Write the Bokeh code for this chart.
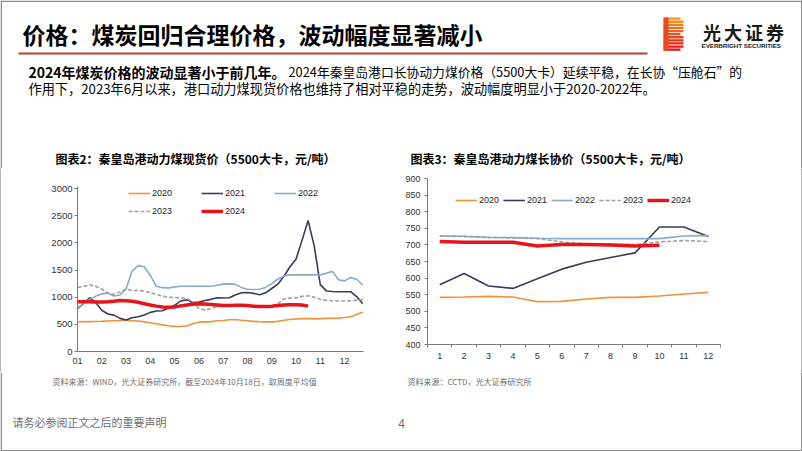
from bokeh.plotting import figure
from bokeh.layouts import column, row
from bokeh.models import (Range1d, Legend, LegendItem, FixedTicker, CustomJSTickFormatter)
from bokeh.core.properties import value
from bokeh.embed import file_html
from bokeh.resources import INLINE

CJK = "Noto Sans CJK SC"
LAT = "Liberation Sans"

# ---------------- texts ----------------
TITLE_TEXT = "价格：煤炭回归合理价格，波动幅度显著减小"
BODY1_BOLD = "2024年煤炭价格的波动显著小于前几年。"
BODY1_REST = "2024年秦皇岛港口长协动力煤价格（5500大卡）延续平稳，在长协“压舱石”的"
BODY2 = "作用下，2023年6月以来，港口动力煤现货价格也维持了相对平稳的走势，波动幅度明显小于2020-2022年。"
CHART2_TITLE = "图表2：秦皇岛港动力煤现货价（5500大卡，元/吨）"
CHART3_TITLE = "图表3：秦皇岛港动力煤长协价（5500大卡，元/吨）"
SOURCE2 = "资料来源：WIND，光大证券研究所，截至2024年10月18日，取周度平均值"
SOURCE3 = "资料来源：CCTD，光大证券研究所"
FOOTER = "请务必参阅正文之后的重要声明"
PAGE_NO = "4"
LOGO_CN = ["光", "大", "证", "券"]
LOGO_EN = "EVERBRIGHT SECURITIES"

# ---------------- chart 2 data (spot price, weekly-ish, x = month position) ----------------
spot_x = [1.0, 1.25, 1.5, 1.75, 2.0, 2.25, 2.5, 2.75, 3.0, 3.25, 3.5, 3.75,
          4.0, 4.25, 4.5, 4.75, 5.0, 5.25, 5.5, 5.75, 6.0, 6.25, 6.5, 6.75,
          7.0, 7.25, 7.5, 7.75, 8.0, 8.25, 8.5, 8.75, 9.0, 9.25, 9.5, 9.75,
          10.0, 10.25, 10.5, 10.75, 11.0, 11.25, 11.5, 11.75, 12.0, 12.25, 12.5, 12.75]
spot_2020 = [548, 548, 550, 552, 555, 560, 565, 570, 570, 565, 560, 545,
             530, 510, 490, 475, 465, 460, 470, 510, 540, 545, 550, 565,
             570, 585, 590, 575, 565, 555, 548, 545, 545, 555, 575, 590,
             600, 605, 605, 600, 605, 610, 612, 615, 625, 640, 680, 725]
spot_2021 = [790, 880, 990, 900, 760, 690, 670, 610, 580, 620, 640, 670,
             720, 745, 750, 800, 850, 930, 950, 900, 910, 940, 960, 990,
             985, 990, 1040, 1080, 1085, 1070, 1045, 1080, 1160, 1240, 1380, 1560,
             1700, 2050, 2410, 1940, 1230, 1115, 1105, 1100, 1100, 1100, 1010, 880]
spot_2022 = [800, 880, 960, 1020, 1060, 1075, 1020, 1040, 1150, 1480, 1580, 1560,
             1400, 1200, 1175, 1170, 1190, 1200, 1200, 1200, 1200, 1200, 1200, 1220,
             1240, 1245, 1235, 1180, 1145, 1140, 1145, 1180, 1250, 1330, 1390, 1410,
             1410, 1410, 1410, 1410, 1410, 1440, 1475, 1320, 1300, 1360, 1330, 1220]
spot_2023 = [1180, 1200, 1225, 1200, 1150, 1080, 1050, 1100, 1150, 1120, 1125, 1110,
             1080, 1050, 1020, 1000, 995, 985, 975, 915, 790, 765, 790, 825,
             840, 835, 840, 845, 840, 830, 820, 815, 830, 880, 970, 985,
             990, 1015, 1025, 1000, 960, 940, 935, 930, 930, 935, 945, 955]
spot_2024 = [915, 915, 915, 910, 910, 915, 925, 940, 935, 925, 905, 880,
             855, 835, 820, 815, 820, 840, 855, 870, 880, 875, 865, 855,
             845, 845, 850, 850, 845, 835, 830, 830, 835, 845, 855, 860,
             860, 855, 835]
spot_ticks = [1, 2, 3, 4, 5, 6, 7, 8, 9, 10, 11, 12]
spot_tick_labels = ["01", "02", "03", "04", "05", "06", "07", "08", "09", "10", "11", "12"]
spot_y_ticks = [0, 500, 1000, 1500, 2000, 2500, 3000]

# ---------------- chart 3 data (long-term contract price, monthly) ----------------
lt_months = [1, 2, 3, 4, 5, 6, 7, 8, 9, 10, 11, 12]
lt_2020 = [542, 543, 545, 543, 529, 530, 537, 542, 542, 546, 552, 557]
lt_2021 = [580, 614, 576, 569, 598, 627, 648, 662, 676, 754, 754, 725]
lt_2022 = [727, 726, 723, 722, 720, 719, 719, 719, 719, 719, 727, 728]
lt_2023 = [727, 725, 722, 721, 719, 709, 703, 703, 701, 709, 713, 710]
lt_2024 = [710, 708, 708, 708, 697, 701, 701, 700, 697, 699]
lt_y_ticks = [400, 450, 500, 550, 600, 650, 700, 750, 800, 850, 900]

SERIES = ["2020", "2021", "2022", "2023", "2024"]

# ---------------- styles ----------------
C20 = "#F0913A"
C21 = "#3B3A5E"
C22 = "#86ABC6"
C23 = "#A0A0A0"
C24 = "#E8141C"
BORDER = "#8C8C8C"
AXIS = "#7A7A7A"
TICK_TXT = "#333333"


def prep(p):
    if p.title is not None:
        p.title.visible = False
        p.title.text = ""
        p.title.text_font_size = "0px"
        p.title.standoff = 0
        p.title.offset = 0
    if "frame_align" in p.properties():
        p.frame_align = False
    p.xgrid.visible = False
    p.ygrid.visible = False


def blank(width, height, x0, x1, y_bottom, y_top):
    p = figure(width=width, height=height, x_range=Range1d(x0, x1),
               y_range=Range1d(y_bottom, y_top), x_axis_location=None,
               y_axis_location=None, toolbar_location=None, output_backend="svg",
               min_border=0, outline_line_color=None)
    prep(p)
    return p


# ---------------- header figure ----------------
top = blank(802, 168, 0, 802, 168, 0)
top.segment(x0=[0.75, 801.25, 0], y0=[0, 0, 0.75], x1=[0.75, 801.25, 802], y1=[168, 168, 0.75],
            line_color=BORDER, line_width=1.5)
top.text(x=[22], y=[33], text=[TITLE_TEXT], text_font=value(CJK), text_font_size="23px",
         text_font_style="bold", text_baseline="middle", text_align="left", text_color="#000000")
top.segment(x0=[18], y0=[53], x1=[647], y1=[53], line_color="#C0392B", line_width=2)

# logo icon: striped "B"
logo_cols = ["#F7941D", "#F58A1F", "#F37E20", "#F17021", "#EF6222", "#EC5220",
             "#EA421D", "#E8341A", "#E62617", "#E51A14", "#E30F12"]
lefts, rights, tops_, bots = [], [], [], []
for i, c in enumerate(logo_cols):
    yt = 17 + i * 3.1
    r = 683 if i not in (0, 5, 10) else 680
    lefts.append(663); rights.append(r); tops_.append(yt); bots.append(yt + 2.3)
top.quad(left=lefts, right=rights, top=tops_, bottom=bots, fill_color=logo_cols, line_color=None)
top.quad(left=[663], right=[668], top=[17], bottom=[50.3], fill_color="#EA4A1F", line_color=None)
top.text(x=[711.5 + 21 * i for i in range(4)], y=[31] * 4, text=LOGO_CN, text_font=value(CJK),
         text_font_size="18px", text_font_style="bold", text_align="center",
         text_baseline="middle", text_color="#1A1A1A")
top.text(x=[701], y=[45], text=[LOGO_EN], text_font=value(LAT), text_font_size="6.2px",
         text_font_style="bold", text_align="left", text_baseline="middle", text_color="#1A1A1A")

top.text(x=[28], y=[71], text=[BODY1_BOLD], text_font=value(CJK), text_font_size="14px",
         text_font_style="bold", text_baseline="middle", text_align="left", text_color="#000000")
top.text(x=[288], y=[71], text=[BODY1_REST], text_font=value(CJK), text_font_size="12.8px",
         text_baseline="middle", text_align="left", text_color="#000000")
top.text(x=[28], y=[88], text=[BODY2], text_font=value(CJK), text_font_size="13.2px",
         text_baseline="middle", text_align="left", text_color="#000000")
top.text(x=[55, 410], y=[158, 158], text=[CHART2_TITLE, CHART3_TITLE], text_font=value(CJK),
         text_font_size="12px", text_font_style="bold", text_baseline="middle",
         text_align="left", text_color="#000000")


def style_axes(p, label_size):
    for ax in (p.xaxis[0], p.yaxis[0]):
        ax.axis_line_color = AXIS
        ax.axis_line_width = 1
        ax.major_tick_line_color = AXIS
        ax.major_tick_in = 0
        ax.major_tick_out = 3
        ax.minor_tick_line_color = None
        ax.minor_tick_in = 0
        ax.minor_tick_out = 0
        ax.major_label_text_font = LAT
        ax.major_label_text_font_size = label_size
        ax.major_label_text_color = TICK_TXT


def make_legend(items, x, y, spacing, label_width):
    lg = Legend(items=items, location=(x, y), orientation="horizontal",
                glyph_width=22, glyph_height=10, label_height=10, label_width=label_width,
                label_standoff=2, spacing=spacing, padding=0, margin=0,
                border_line_color=None, background_fill_alpha=0,
                label_text_font=LAT, label_text_font_size="9px", label_text_color="#262626")
    return lg


# ---------------- chart 2 (spot) ----------------
# frame: top at y=186 (3000 at 188), bottom at 351
left = figure(width=400, height=204, x_range=Range1d(1, 12.78), y_range=Range1d(0, 3037),
              min_border_left=76, min_border_right=38, min_border_top=18, min_border_bottom=21,
              toolbar_location=None, output_backend="svg", outline_line_color=None)
prep(left)
style_axes(left, "9.5px")
left.yaxis.ticker = FixedTicker(ticks=spot_y_ticks)
left.yaxis.major_label_standoff = 2
left.xaxis.ticker = FixedTicker(ticks=spot_ticks)
left.xaxis.formatter = CustomJSTickFormatter(args=dict(labels=spot_tick_labels),
                                             code="return labels[Math.round(tick) - 1];")
left.xaxis.major_tick_out = 0
left.xaxis.major_label_standoff = 6
left.xaxis.major_label_text_font_size = "9px"

s20 = left.line(spot_x, spot_2020, line_color=C20, line_width=1.6)
s21 = left.line(spot_x, spot_2021, line_color=C21, line_width=1.6)
s22 = left.line(spot_x, spot_2022, line_color=C22, line_width=1.6)
s23 = left.line(spot_x, spot_2023, line_color=C23, line_width=1.6, line_dash="4 2")
s24 = left.line(spot_x[:len(spot_2024)], spot_2024, line_color=C24, line_width=3.5)

lg1 = make_legend([LegendItem(label=SERIES[0], renderers=[s20]),
                   LegendItem(label=SERIES[1], renderers=[s21]),
                   LegendItem(label=SERIES[2], renderers=[s22])], 51, 153, 6, 43)
lg2 = make_legend([LegendItem(label=SERIES[3], renderers=[s23]),
                   LegendItem(label=SERIES[4], renderers=[s24])], 51, 135, 6, 43)
left.add_layout(lg1)
left.add_layout(lg2)

# ---------------- chart 3 (long-term contract) ----------------
right = figure(width=400, height=204, x_range=Range1d(0.5, 12.5), y_range=Range1d(400, 900),
               min_border_left=26, min_border_right=81, min_border_top=10, min_border_bottom=28,
               toolbar_location=None, output_backend="svg", outline_line_color=None)
prep(right)
style_axes(right, "9px")
right.yaxis.ticker = FixedTicker(ticks=lt_y_ticks)
right.yaxis.major_label_standoff = 4
right.xaxis.ticker = FixedTicker(ticks=lt_months,
                                 minor_ticks=[m - 0.5 for m in lt_months] + [lt_months[-1] + 0.5])
right.xaxis.major_tick_line_color = None
right.xaxis.minor_tick_line_color = AXIS
right.xaxis.minor_tick_in = 0
right.xaxis.minor_tick_out = 3
right.xaxis.major_label_standoff = 5

r20 = right.line(lt_months, lt_2020, line_color=C20, line_width=1.6)
r21 = right.line(lt_months, lt_2021, line_color=C21, line_width=1.6)
r22 = right.line(lt_months, lt_2022, line_color=C22, line_width=1.6)
r23 = right.line(lt_months, lt_2023, line_color=C23, line_width=1.6, line_dash="4 2")
r24 = right.line(lt_months[:len(lt_2024)], lt_2024, line_color=C24, line_width=3.5)

lg3 = make_legend([LegendItem(label=SERIES[0], renderers=[r20]),
                   LegendItem(label=SERIES[1], renderers=[r21]),
                   LegendItem(label=SERIES[2], renderers=[r22]),
                   LegendItem(label=SERIES[3], renderers=[r23]),
                   LegendItem(label=SERIES[4], renderers=[r24])], 28, 139, 0, 24)
right.add_layout(lg3)


def strip():
    p = blank(1, 204, 0, 1, 0, 1)
    p.border_fill_color = BORDER
    p.background_fill_color = BORDER
    p.quad(left=[0], right=[1], bottom=[0], top=[1], fill_color=BORDER, line_color=None)
    return p


# ---------------- footer figure ----------------
bot = blank(802, 79, 0, 802, 451, 372)
bot.segment(x0=[0.75, 801.25, 0], y0=[372, 372, 450.25], x1=[0.75, 801.25, 802], y1=[451, 451, 450.25],
            line_color=BORDER, line_width=1.5)
bot.text(x=[52, 407], y=[380.5, 380.5], text=[SOURCE2, SOURCE3], text_font=value(CJK),
         text_font_size="8px", text_baseline="middle", text_align="left", text_color="#6E6E6E")
bot.text(x=[12], y=[421.5], text=[FOOTER], text_font=value(CJK), text_font_size="11px",
         text_baseline="middle", text_align="left", text_color="#6E6E6E")
bot.text(x=[401], y=[423], text=[PAGE_NO], text_font=value(LAT), text_font_size="12px",
         text_baseline="middle", text_align="center", text_color="#6E6E6E")

layout = column(top, row(strip(), left, right, strip(), spacing=0), bot, spacing=0)

open("out.html", "w").write(file_html(layout, INLINE))
